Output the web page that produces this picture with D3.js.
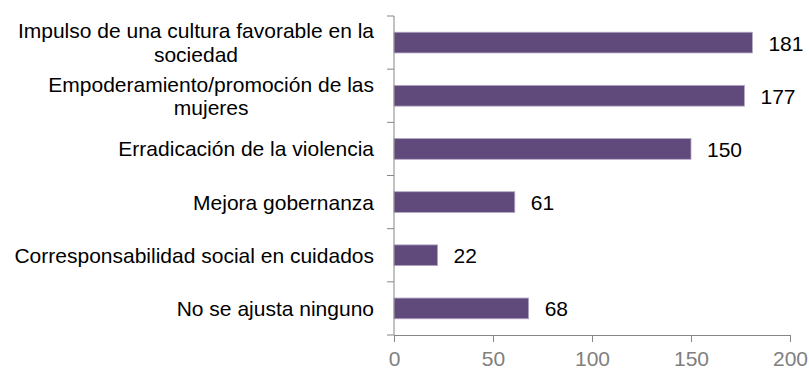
<!DOCTYPE html>
<html>
<head>
<meta charset="utf-8">
<script src="https://cdn.jsdelivr.net/npm/d3@7/dist/d3.min.js"></script>
<style>
  html, body { margin: 0; padding: 0; background: #fff; }
  svg { display: block; font-family: "Liberation Sans", Arial, sans-serif; }
</style>
</head>
<body>
<svg id="chart" width="809" height="369"></svg>
<script>
// Categories (each entry is a list of wrapped label lines)
const categories = [
  ["Impulso de una cultura favorable en la", "sociedad"],
  ["Empoderamiento/promoción de las", "mujeres"],
  ["Erradicación de la violencia"],
  ["Mejora gobernanza"],
  ["Corresponsabilidad social en cuidados"],
  ["No se ajusta ninguno"]
];
const values = [181, 177, 150, 61, 22, 68];
const xTicks = [0, 50, 100, 150, 200];

const svg = d3.select("#chart");
const plot = { left: 394, right: 790, top: 16, bottom: 335 };

const x = d3.scaleLinear().domain([0, 200]).range([plot.left, plot.right]);
const keys = categories.map((c, i) => i);
const y = d3.scaleBand().domain(keys).range([plot.top, plot.bottom])
  .paddingInner(0.61).paddingOuter(0.305);

const axisColor = "#868686";

// Bars
svg.append("g").selectAll("rect")
  .data(values)
  .join("rect")
  .attr("x", x(0))
  .attr("y", (d, i) => y(i))
  .attr("width", d => x(d) - x(0))
  .attr("height", y.bandwidth())
  .attr("fill", "#604a7b")
  .attr("stroke", "#b4a7c5")
  .attr("stroke-width", 0.8);

// Value labels
svg.append("g").selectAll("text")
  .data(values)
  .join("text")
  .attr("x", d => x(d) + 16)
  .attr("y", (d, i) => y(i) + y.bandwidth() / 2 + 8)
  .attr("font-size", 21)
  .attr("fill", "#000")
  .text(d => d);

// X axis
const xAxis = svg.append("g")
  .attr("transform", `translate(0,${plot.bottom})`)
  .call(d3.axisBottom(x).tickValues(xTicks).tickSize(7).tickSizeOuter(0).tickPadding(9));
xAxis.select(".domain").attr("stroke", axisColor);
xAxis.selectAll(".tick line").attr("stroke", axisColor);
xAxis.selectAll(".tick text")
  .attr("font-size", 21)
  .attr("font-family", "Liberation Sans, Arial, sans-serif")
  .attr("fill", "#7f7f7f");

// Y axis line and category separator ticks
const ya = svg.append("g");
ya.append("line")
  .attr("x1", plot.left).attr("x2", plot.left)
  .attr("y1", plot.top).attr("y2", plot.bottom)
  .attr("stroke", axisColor);
const bounds = d3.range(categories.length + 1).map(i => plot.top + i * y.step());
ya.selectAll("line.sep")
  .data(bounds)
  .join("line")
  .attr("class", "sep")
  .attr("x1", plot.left - 7).attr("x2", plot.left)
  .attr("y1", d => d).attr("y2", d => d)
  .attr("stroke", axisColor);

// Category labels: block right-aligned, lines centred within the block
const lineH = 23.5;
const labelRight = 374;
const lab = svg.append("g").attr("font-size", 21).attr("fill", "#000");
categories.forEach((lines, i) => {
  const cy = y(i) + y.bandwidth() / 2;
  const g = lab.append("g");
  const texts = lines.map((ln, k) => g.append("text")
    .attr("y", cy + (k - (lines.length - 1) / 2) * lineH + 7.5)
    .text(ln));
  const widths = texts.map(t => t.node().getComputedTextLength());
  const w = d3.max(widths);
  const cx = labelRight - w / 2;
  texts.forEach(t => t.attr("x", cx).attr("text-anchor", "middle"));
});
</script>
</body>
</html>
